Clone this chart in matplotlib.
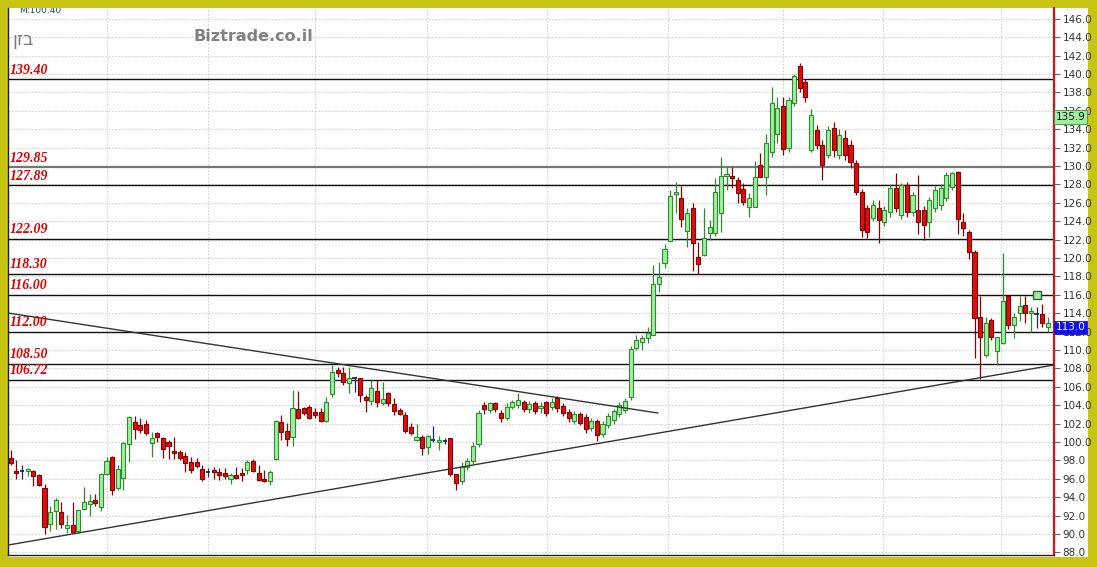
import matplotlib
matplotlib.use('Agg')
import matplotlib.pyplot as plt
import matplotlib.transforms as mtransforms
import numpy as np

# ---------------- data ----------------
opens = [
    98.3, 96.9, 96.9, 96.85, 96.8, 96.4, 95.0, 91.1, 92.5, 92.4,
    90.7, 91.0, 90.3, 92.7, 93.3, 93.7, 92.9, 96.56, 98.41, 95.04,
    96.1, 99.75, 102.14, 101.85, 101.92, 99.86, 101.02, 100.47, 99.96, 99.02,
    98.88, 98.48, 97.79, 97.79, 97.07, 96.78, 96.96, 96.78, 96.63, 95.95,
    96.38, 96.6, 96.96, 97.94, 96.6, 95.95, 95.76, 98.16, 102.21, 101.2,
    100.58, 103.59, 103.73, 103.84, 103.23, 103.23, 102.29, 105.18, 107.83, 107.47,
    106.38, 107.0, 107.0, 104.93, 104.5, 105.58, 104.21, 105.29, 104.13, 103.48,
    102.94, 101.6, 100.22, 100.58, 99.42, 100.22, 100.0, 100.11, 100.4, 96.53,
    95.8, 97.3, 97.9, 99.8, 104.0, 103.5, 104.2, 103.2, 102.6, 103.8,
    104.0, 104.4, 103.6, 104.2, 103.7, 104.3, 103.8, 104.8, 103.9, 103.3,
    102.3, 103.0, 102.7, 101.5, 102.3, 100.9, 101.8, 102.4, 103.0, 103.5,
    104.9, 110.18, 110.91, 111.27, 111.63, 117.17, 119.49, 121.89, 127.0, 126.49,
    122.97, 125.47, 120.07, 120.33, 122.68, 122.76, 124.86, 128.9, 128.91, 128.48,
    127.46, 125.51, 125.51, 130.11, 128.8, 131.5, 133.5, 136.5, 132.0, 136.8,
    140.9, 139.1, 131.7, 133.9, 132.3, 131.2, 134.1, 131.2, 133.0, 132.3,
    130.3, 127.2, 125.4, 124.4, 125.4, 123.9, 125.0, 127.6, 124.7, 127.9,
    125.0, 125.2, 125.2, 123.9, 125.4, 125.8, 126.5, 127.7, 129.3, 123.95,
    122.86, 120.68, 113.55, 109.45, 113.26, 109.92, 110.79, 115.87, 112.71, 113.98,
    114.89, 113.98, 113.91, 113.91, 112.46,
]
highs = [
    99.1, 98.0, 97.5, 97.2, 97.0, 96.5, 95.4, 93.0, 93.95, 93.5,
    92.1, 93.5, 92.7, 95.1, 94.4, 94.3, 96.6, 98.4, 98.5, 97.5,
    100.0, 102.8, 102.86, 102.57, 102.39, 101.05, 101.12, 100.5, 100.2, 100.58,
    99.13, 98.88, 98.41, 98.23, 97.5, 97.21, 97.32, 97.14, 97.14, 96.6,
    97.32, 97.14, 98.05, 98.16, 97.5, 96.96, 96.96, 102.4, 102.94, 102.03,
    105.66, 105.55, 103.84, 104.02, 103.66, 103.66, 104.93, 108.37, 108.19, 108.19,
    108.19, 107.05, 107.0, 105.11, 106.74, 106.74, 106.56, 105.48, 104.75, 103.66,
    103.3, 102.03, 101.96, 100.76, 100.76, 101.74, 100.66, 100.4, 100.4, 96.53,
    97.8, 98.3, 100.0, 103.5, 104.4, 104.4, 104.4, 103.5, 104.2, 104.6,
    105.3, 104.6, 104.5, 104.5, 104.3, 104.5, 104.8, 105.0, 104.2, 103.6,
    103.4, 103.3, 103.0, 102.6, 102.5, 102.3, 103.1, 103.6, 104.3, 104.8,
    110.4, 111.63, 111.63, 112.54, 119.24, 119.6, 121.52, 127.39, 128.3, 127.83,
    125.4, 126.02, 121.78, 125.4, 124.13, 128.66, 130.94, 129.93, 129.86, 128.84,
    128.12, 127.03, 130.58, 131.45, 133.5, 138.6, 137.5, 137.5, 137.5, 140.0,
    141.2, 139.5, 136.2, 134.5, 132.8, 134.3, 134.8, 134.0, 133.9, 132.8,
    130.6, 127.5, 125.8, 126.3, 126.3, 125.6, 128.0, 129.2, 128.2, 128.3,
    127.2, 129.0, 125.6, 126.6, 127.8, 128.0, 129.4, 129.4, 129.5, 124.85,
    123.0, 120.9, 115.87, 113.62, 113.44, 111.4, 120.5, 116.0, 113.98, 115.87,
    115.87, 114.63, 114.63, 114.99, 113.62,
]
lows = [
    97.5, 96.0, 96.0, 96.3, 95.25, 95.2, 90.0, 90.3, 90.6, 90.7,
    90.1, 90.1, 90.1, 92.6, 92.0, 93.0, 92.5, 96.4, 94.24, 94.8,
    94.8, 97.86, 100.29, 100.94, 100.76, 98.41, 100.04, 98.3, 98.2, 98.2,
    98.0, 96.78, 96.6, 97.14, 95.76, 96.24, 95.98, 95.87, 95.98, 95.4,
    95.98, 95.76, 96.49, 96.71, 95.76, 95.69, 95.33, 98.05, 100.22, 99.6,
    99.6, 102.5, 102.94, 102.5, 102.57, 102.21, 102.21, 104.93, 107.11, 106.2,
    105.29, 105.47, 104.39, 103.3, 104.03, 103.84, 104.03, 103.92, 102.94, 102.94,
    101.02, 100.76, 100.15, 98.59, 98.7, 100.04, 99.13, 99.79, 96.31, 94.8,
    95.4, 97.0, 97.6, 99.5, 103.0, 103.2, 103.3, 102.2, 102.4, 103.6,
    103.7, 103.3, 103.2, 103.0, 103.2, 102.8, 103.5, 103.3, 102.8, 102.2,
    102.0, 101.8, 101.0, 101.2, 100.1, 100.5, 101.5, 102.0, 102.7, 103.2,
    104.6, 110.0, 110.0, 110.73, 111.6, 116.34, 118.88, 121.85, 124.86, 123.33,
    121.23, 118.62, 118.26, 120.2, 121.96, 122.39, 122.86, 127.39, 127.57, 125.94,
    125.76, 124.5, 125.5, 128.8, 126.85, 131.0, 132.5, 131.2, 131.5, 136.5,
    138.0, 137.0, 131.5, 131.8, 128.5, 130.9, 131.0, 130.8, 130.7, 129.8,
    126.8, 122.3, 122.2, 124.0, 121.6, 123.5, 124.5, 125.0, 124.2, 124.5,
    124.6, 122.6, 122.0, 122.3, 125.0, 125.2, 126.2, 127.4, 122.6, 122.39,
    119.85, 109.09, 106.81, 109.27, 111.08, 108.37, 110.7, 112.24, 111.26, 113.18,
    112.97, 111.99, 112.35, 112.53, 111.99,
]
closes = [
    97.7, 96.6, 96.9, 96.95, 96.3, 95.3, 90.8, 92.4, 93.7, 91.1,
    91.0, 90.2, 92.6, 93.45, 93.6, 93.4, 96.5, 97.94, 94.78, 97.07,
    99.86, 102.76, 101.41, 101.3, 100.94, 100.47, 100.58, 99.2, 99.6, 98.88,
    98.3, 97.68, 96.96, 97.43, 95.98, 96.78, 96.71, 96.42, 96.34, 96.42,
    96.13, 96.42, 97.87, 96.85, 95.87, 95.8, 96.71, 102.29, 101.05, 100.33,
    103.66, 102.65, 103.12, 102.57, 102.94, 102.29, 104.39, 107.58, 107.47, 106.49,
    107.0, 107.0, 105.11, 104.57, 105.84, 104.32, 104.64, 104.21, 103.41, 103.05,
    101.24, 100.95, 100.51, 99.32, 100.66, 100.22, 100.22, 100.11, 96.49, 95.58,
    97.3, 97.9, 99.6, 103.1, 103.6, 104.2, 103.6, 102.6, 103.8, 104.3,
    104.6, 103.6, 104.1, 103.4, 103.85, 103.1, 104.4, 103.7, 103.1, 102.6,
    103.0, 102.1, 101.4, 102.3, 100.8, 102.0, 102.8, 103.4, 104.0, 104.5,
    110.1, 111.09, 111.27, 111.88, 117.14, 117.9, 120.94, 126.74, 127.14, 124.24,
    124.93, 121.6, 119.35, 122.14, 123.41, 127.21, 128.91, 129.0, 128.84, 127.1,
    126.12, 126.56, 128.77, 128.84, 132.5, 136.8, 136.3, 131.8, 137.2, 139.8,
    138.5, 137.5, 135.5, 132.3, 130.1, 133.9, 131.7, 133.4, 131.2, 130.4,
    127.2, 123.0, 122.8, 125.8, 124.1, 125.2, 127.6, 125.4, 127.9, 125.0,
    126.8, 123.9, 123.6, 126.3, 127.4, 127.6, 129.0, 129.2, 124.2, 123.22,
    120.61, 113.44, 111.44, 112.97, 111.44, 111.37, 115.36, 112.71, 113.55, 114.78,
    113.98, 114.23, 113.91, 112.97, 112.97,
]

level_values = [139.40, 129.85, 127.89, 122.09, 118.30, 116.00, 112.00, 108.50, 106.72]
level_labels = ['139.40', '129.85', '127.89', '122.09', '118.30', '116.00', '112.00', '108.50', '106.72']

trend_down_x = [-0.48, 114.8]
trend_down_y = [114.02, 103.15]
trend_up_x = [-0.48, 185.1]
trend_up_y = [88.8, 108.37]

month_x = [17.1, 35.0, 54.0, 73.8, 95.1, 116.6, 137.0, 154.7, 175.7]

alert_x = [182]
alert_y = [116.0]

y_ticks = np.arange(88, 147, 2)
last_high_label = '135.9'
last_high_value = 135.9
last_close_label = '113.0'
last_close_value = 113.0
symbol_name = "בזן"
site_name = 'Biztrade.co.il'
ma_text = 'M:100.40'

# ---------------- figure ----------------
W, H = 1097, 567
fig = plt.figure(figsize=(W / 100, H / 100), dpi=100, facecolor='#c8c412')
bg = fig.add_axes([8 / W, (H - 557) / H, (1088 - 8) / W, (557 - 8) / H])
bg.set_facecolor('white')
bg.set_xticks([]); bg.set_yticks([])
for s in bg.spines.values():
    s.set_visible(False)
bg.set_zorder(0)

ax = fig.add_axes([8 / W, (H - 555) / H, (1054 - 8) / W, (555 - 8) / H])
ax.set_zorder(1)
ax.set_facecolor('white')

o = np.array(opens); h = np.array(highs); l = np.array(lows); c = np.array(closes)
x = np.arange(len(o))
up = c > o
dn = c < o
dj = c == o

green_fill, green_edge = '#9ef09e', '#2e8b2e'
red_fill, red_edge = '#d81010', '#8a0000'
doji_col = '#1c2a5c'
bw = 0.72

ax.vlines(x[up], l[up], h[up], color=green_edge, lw=0.9, zorder=3)
ax.vlines(x[dn], l[dn], h[dn], color=red_edge, lw=0.9, zorder=3)
ax.vlines(x[dj], l[dj], h[dj], color=doji_col, lw=0.9, zorder=3)

hu = np.maximum(c[up] - o[up], 0.18)
ax.bar(x[up], hu, bottom=o[up], width=bw, color=green_fill, edgecolor=green_edge,
       linewidth=0.8, zorder=4)
hd = np.maximum(o[dn] - c[dn], 0.18)
ax.bar(x[dn], hd, bottom=o[dn] - hd, width=bw, color=red_fill, edgecolor=red_edge,
       linewidth=0.8, zorder=4)
ax.hlines(o[dj], x[dj] - bw / 2, x[dj] + bw / 2, color=doji_col, lw=1.3, zorder=4)

# grid
for yv in y_ticks:
    ax.axhline(yv, color='#d2d2d2', lw=0.8, ls=(0, (1.5, 1.5)), zorder=1)
for xv in month_x:
    ax.axvline(xv, color='#d2d2d2', lw=0.8, ls=(0, (1.5, 1.5)), zorder=1)

# support / resistance levels
trans = mtransforms.blended_transform_factory(ax.transAxes, ax.transData)
for v, lab in zip(level_values, level_labels):
    if lab == '129.85':
        ax.axhline(v, color='#777777', lw=1.6, zorder=2)
    else:
        ax.axhline(v, color='#111111', lw=1.0, zorder=2)
    ax.text(0.002, v + 0.3, lab, transform=trans, ha='left', va='bottom',
            color='#e00000', fontsize=10, fontstyle='italic', fontweight='bold',
            family='Liberation Serif', zorder=6)

# trend lines
ax.plot(trend_down_x, trend_down_y, color='#333333', lw=1.0, zorder=5)
ax.plot(trend_up_x, trend_up_y, color='#333333', lw=1.0, zorder=5)

# alert marker
ax.scatter(alert_x, alert_y, marker='s', s=38, facecolor='#a8e8a8',
           edgecolor='#336633', linewidth=1.0, zorder=6)

ax.set_xlim(-0.48, 185.1)
ax.set_ylim(87.72, 147.17)

# axes styling
ax.yaxis.tick_right()
ax.set_yticks(y_ticks)
ax.set_yticklabels([f'{v:.1f}' for v in y_ticks])
ax.tick_params(axis='y', length=4, width=0.8, color='#666666', labelsize=7.5,
               labelcolor='#333333', pad=2)
ax.set_xticks([])
ax.spines['top'].set_visible(False)
ax.spines['right'].set_color('#e01010')
ax.spines['right'].set_linewidth(1.6)
ax.spines['left'].set_color('#222222')
ax.spines['left'].set_linewidth(1.0)
ax.spines['bottom'].set_color('#222222')
ax.spines['bottom'].set_linewidth(1.0)

# price boxes on the axis
ax.text(1.0015, last_high_value, last_high_label, transform=trans, ha='left', va='top',
        fontsize=7.5, color='#111111', zorder=7, clip_on=False,
        bbox=dict(boxstyle='square,pad=0.18', facecolor='#9ef09e', edgecolor='#4a8a4a', lw=0.6))
ax.text(1.0015, last_close_value, last_close_label, transform=trans, ha='left', va='top',
        fontsize=7.5, color='white', zorder=7, clip_on=False,
        bbox=dict(boxstyle='square,pad=0.18', facecolor='#1010ee', edgecolor='#1010ee', lw=0.6))

# watermark texts
ax.text(0.004, 0.941, symbol_name[::-1], transform=ax.transAxes, ha='left', va='center',
        fontsize=13, color='#7a7a7a', family='DejaVu Sans', zorder=6)
ax.text(0.177, 0.947, site_name, transform=ax.transAxes, ha='left', va='center',
        fontsize=11.5, fontweight='bold', color='#808080', zorder=6)
ax.text(0.011, 0.996, ma_text, transform=ax.transAxes, ha='left', va='center',
        fontsize=6.5, color='#2040a0', zorder=6, clip_on=True)

fig.savefig('out.png', dpi=100, facecolor=fig.get_facecolor())
